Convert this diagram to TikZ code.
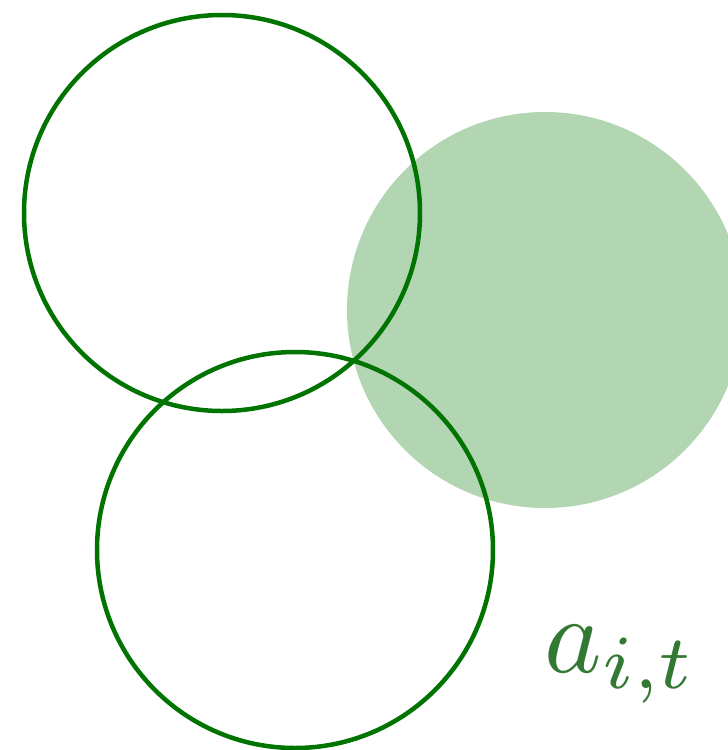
\documentclass[tikz,border=0pt]{standalone}
\usepackage{amsmath}
\usepackage{graphicx}
\usepackage{xcolor}
\usepackage{tikz}
\usetikzlibrary{positioning}

\definecolor{setgreen}{RGB}{0,115,0}

\begin{document}
\begin{tikzpicture}[
    ring/.style={draw=setgreen, circle, line width=0.045cm, minimum size=3.96cm, inner sep=0pt},
    blob/.style={circle, fill=setgreen, fill opacity=0.3, minimum size=3.96cm, inner sep=0pt},
    lab/.style={text=setgreen!75!black, text opacity=0.8, font=\normalsize, inner sep=0pt},
]
\useasboundingbox (0,0) rectangle (7.28,-7.5);
\clip (0,0) rectangle (7.28,-7.5);

\node[blob] (shade) at (5.45,-3.10) {};
\node[ring] (top) at (2.22,-2.13) {};
\node[ring] (bot) at (2.95,-5.50) {};

\node[lab, anchor=base west] (ait) at (5.44,-6.72) {\scalebox{3.1}{$a_{i,t}$}};

\end{tikzpicture}
\end{document}
